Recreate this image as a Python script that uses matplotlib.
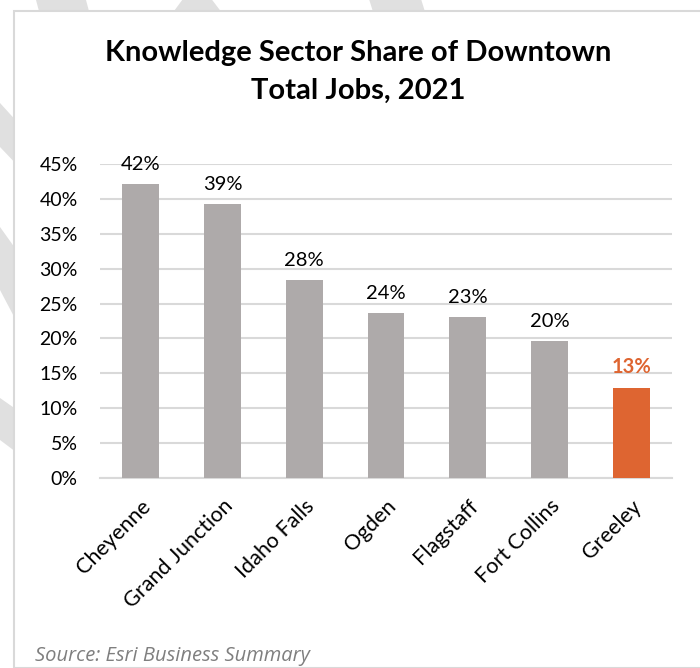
import matplotlib
matplotlib.use("Agg")
import matplotlib.pyplot as plt
from matplotlib.patches import Rectangle, Polygon
from matplotlib.ticker import PercentFormatter

# Data
cities = ["Cheyenne", "Grand Junction", "Idaho Falls", "Ogden",
          "Flagstaff", "Fort Collins", "Greeley"]
knowledge_share = [42.1, 39.2, 28.4, 23.6, 23.1, 19.6, 12.9]
highlight = "Greeley"

GREY = "#AEAAAA"
ORANGE = "#DE6531"
GRID = "#D9D9D9"

W, H = 700, 668
plt.rcParams['font.family'] = ['Lato', 'DejaVu Sans']

fig = plt.figure(figsize=(W / 100, H / 100), dpi=100)
fig.patch.set_facecolor("white")

# faint diagonal watermark bands behind the chart box (pixel coords, y down)
bands = [
    [(28, -30), (78, -30), (90, 15), (40, 15)],
    [(160, 30), (197, -20), (235, 30), (215, 30), (197, 10), (180, 30)],
    [(360, -30), (412, -30), (426, 15), (374, 15)],
    [(-30, 80), (0, 103), (20, 125), (20, 168), (0, 147), (-30, 125)],
    [(-30, 200), (0, 227), (20, 255), (20, 328), (0, 290), (-30, 260)],
    [(-30, 380), (0, 398), (20, 412), (20, 455), (0, 440), (-30, 420)],
]
for b in bands:
    pts = [(x / W, 1 - y / H) for x, y in b]
    fig.patches.append(Polygon(pts, closed=True, transform=fig.transFigure,
                               facecolor="#E0E0E0", edgecolor="none", zorder=0))

# white chart box with light border
fig.patches.append(Rectangle((14 / W, 0), (W - 14) / W + 0.01, 1 - 11 / H,
                             transform=fig.transFigure, facecolor="white",
                             edgecolor=GRID, linewidth=1.5, zorder=1))

ax = fig.add_axes([100 / W, 1 - 478 / H, 572 / W, 314 / H])
ax.set_zorder(2)
ax.patch.set_alpha(0)

colors = [ORANGE if c == highlight else GREY for c in cities]
x = range(len(cities))
bars = ax.bar(x, knowledge_share, width=0.45, color=colors, zorder=3)

for rect, val, c in zip(bars, knowledge_share, cities):
    is_hl = c == highlight
    ax.annotate(f"{val:.0f}%", (rect.get_x() + rect.get_width() / 2, val),
                xytext=(0, 8), textcoords="offset points",
                ha="center", va="bottom", fontsize=14.5,
                color=ORANGE if is_hl else "black",
                fontweight="bold" if is_hl else "normal")

ax.set_xlim(-0.5, len(cities) - 0.5)
ax.set_ylim(0, 45)
ax.set_yticks(range(0, 50, 5))
ax.yaxis.set_major_formatter(PercentFormatter(decimals=0))
ax.grid(axis="y", color=GRID, linewidth=1.5, zorder=0)
ax.set_axisbelow(True)
for s in ["top", "right", "left"]:
    ax.spines[s].set_visible(False)
ax.spines["bottom"].set_color(GRID)
ax.spines["bottom"].set_linewidth(1.5)

ax.tick_params(axis="y", length=0, pad=16, labelsize=14)
ax.tick_params(axis="x", length=0, pad=13)
ax.set_xticks(list(x))
ax.set_xticklabels(cities, rotation=45, ha="right", rotation_mode="anchor",
                   fontsize=15.5)

fig.text(358 / W, 1 - 72 / H, "Knowledge Sector Share of Downtown\nTotal Jobs, 2021",
         ha="center", va="center", fontsize=21, fontweight="bold",
         linespacing=1.6)

fig.text(35 / W, 1 - 661 / H, "Source: Esri Business Summary",
         ha="left", va="baseline", fontsize=14.5, style="italic",
         color="#7F7F7F", family=["Open Sans", "DejaVu Sans"])

fig.savefig("out.png", dpi=100)
